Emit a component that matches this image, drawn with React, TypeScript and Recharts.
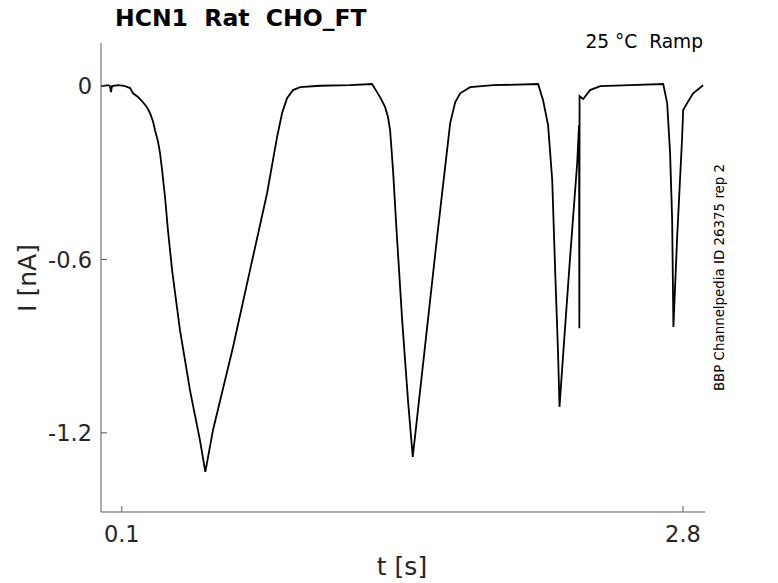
import React from 'react';
import { LineChart, Line, XAxis, YAxis } from 'recharts';

// trace: time in s, current in nA
const timeS = [
  0.0, 0.034, 0.043, 0.048, 0.053, 0.082, 0.111, 0.14, 0.154, 0.178, 0.202, 0.221, 0.236, 0.25, 0.26,
  0.274, 0.284, 0.294, 0.308, 0.322, 0.342, 0.361, 0.38, 0.404, 0.428, 0.452, 0.476, 0.502, 0.539,
  0.635, 0.717, 0.799, 0.847, 0.871, 0.895, 0.924, 0.958, 1.054, 1.198, 1.304, 1.328, 1.348, 1.367,
  1.381, 1.391, 1.405, 1.424, 1.449, 1.478, 1.5, 1.55, 1.617, 1.68, 1.704, 1.728, 1.776, 1.887, 2.103,
  2.127, 2.151, 2.171, 2.185, 2.199, 2.206, 2.224, 2.257, 2.291, 2.3, 2.3015, 2.3025, 2.32, 2.353,
  2.402, 2.546, 2.705, 2.724, 2.738, 2.748, 2.754, 2.772, 2.796, 2.801, 2.82, 2.849, 2.897,
];
const currentNA = [
  0.0, 0.003, 0.0, -0.021, 0.0, 0.003, 0.001, -0.007, -0.025, -0.038, -0.056, -0.073, -0.094, -0.122,
  -0.153, -0.191, -0.232, -0.291, -0.384, -0.498, -0.637, -0.741, -0.845, -0.948, -1.052, -1.139,
  -1.225, -1.335, -1.19, -0.904, -0.637, -0.371, -0.177, -0.094, -0.042, -0.014, -0.004, 0.001, 0.003,
  0.007, -0.021, -0.045, -0.073, -0.108, -0.153, -0.291, -0.523, -0.81, -1.097, -1.283, -0.959, -0.523,
  -0.128, -0.056, -0.025, -0.004, 0.003, 0.007, -0.049, -0.135, -0.326, -0.637, -0.924, -1.11, -0.924,
  -0.592, -0.267, -0.135, -0.838, -0.035, -0.045, -0.014, 0.0, 0.003, 0.007, -0.059, -0.232, -0.464,
  -0.834, -0.523, -0.177, -0.083, -0.059, -0.025, 0.003,
];
const xTicks = [0.1, 2.8];
const yTicks = [-1.2, -0.6, 0];
const xDomain = [0, 2.906];
const yDomain = [-1.474, 0.149];

const data = timeS.map((t, i) => ({ t, i: currentNA[i] }));

const FONT = '"DejaVu Sans", sans-serif';
const AXIS = '#5a5a5a';
const TEXT = '#262626';

const fmt = (v: number) => (v === 0 ? '0' : String(v));

const XTick = (props: any) => {
  const { x, y, payload } = props;
  return (
    <g>
      <line x1={x} x2={x} y1={y} y2={y - 6} stroke={AXIS} strokeWidth={1} />
      <text x={x} y={y + 30} textAnchor="middle" fontFamily={FONT} fontSize={22.5} fill={TEXT}>
        {fmt(payload.value)}
      </text>
    </g>
  );
};

const YTick = (props: any) => {
  const { x, y, payload } = props;
  return (
    <g>
      <line x1={x} x2={x + 6} y1={y} y2={y} stroke={AXIS} strokeWidth={1} />
      <text x={x - 9} y={y} dy="0.36em" textAnchor="end" fontFamily={FONT} fontSize={22.5} fill={TEXT}>
        {fmt(payload.value)}
      </text>
    </g>
  );
};

export default function App() {
  return (
    <div style={{ position: 'absolute', left: 0, top: 0, width: 778, height: 583, background: '#fff' }}>
      <LineChart
        width={778}
        height={583}
        data={data}
        margin={{ top: 43, right: 73, bottom: 21, left: 41 }}
      >
        <XAxis
          dataKey="t"
          type="number"
          domain={xDomain}
          ticks={xTicks}
          allowDataOverflow
          height={50}
          tickSize={0}
          tickMargin={0}
          tickLine={false}
          axisLine={{ stroke: AXIS, strokeWidth: 1 }}
          tick={<XTick />}
        />
        <YAxis
          type="number"
          domain={yDomain}
          ticks={yTicks}
          allowDataOverflow
          width={60}
          tickSize={0}
          tickMargin={0}
          tickLine={false}
          axisLine={{ stroke: AXIS, strokeWidth: 1 }}
          tick={<YTick />}
        />
        <Line
          dataKey="i"
          type="linear"
          stroke="#000"
          strokeWidth={1.8}
          dot={false}
          isAnimationActive={false}
        />
      </LineChart>
      <svg
        width={778}
        height={583}
        style={{ position: 'absolute', left: 0, top: 0, pointerEvents: 'none' }}
      >
        <text x={115} y={26} fontFamily={FONT} fontSize={23.5} fontWeight="bold" fill="#000" style={{ whiteSpace: 'pre' }}>
          {'HCN1  Rat  CHO_FT'}
        </text>
        <text x={703} y={47.5} textAnchor="end" fontFamily={FONT} fontSize={18.6} fill="#000" style={{ whiteSpace: 'pre' }}>
          {'25 °C  Ramp'}
        </text>
        <text x={402} y={575} textAnchor="middle" fontFamily={FONT} fontSize={25} fill={TEXT}>
          t [s]
        </text>
        <text
          transform="translate(36,278) rotate(-90)"
          textAnchor="middle"
          fontFamily={FONT}
          fontSize={25}
          fill={TEXT}
        >
          I [nA]
        </text>
        <text
          transform="translate(724,277.5) rotate(-90)"
          textAnchor="middle"
          fontFamily={FONT}
          fontSize={13.4}
          fill="#000"
        >
          BBP Channelpedia ID 26375 rep 2
        </text>
      </svg>
    </div>
  );
}
